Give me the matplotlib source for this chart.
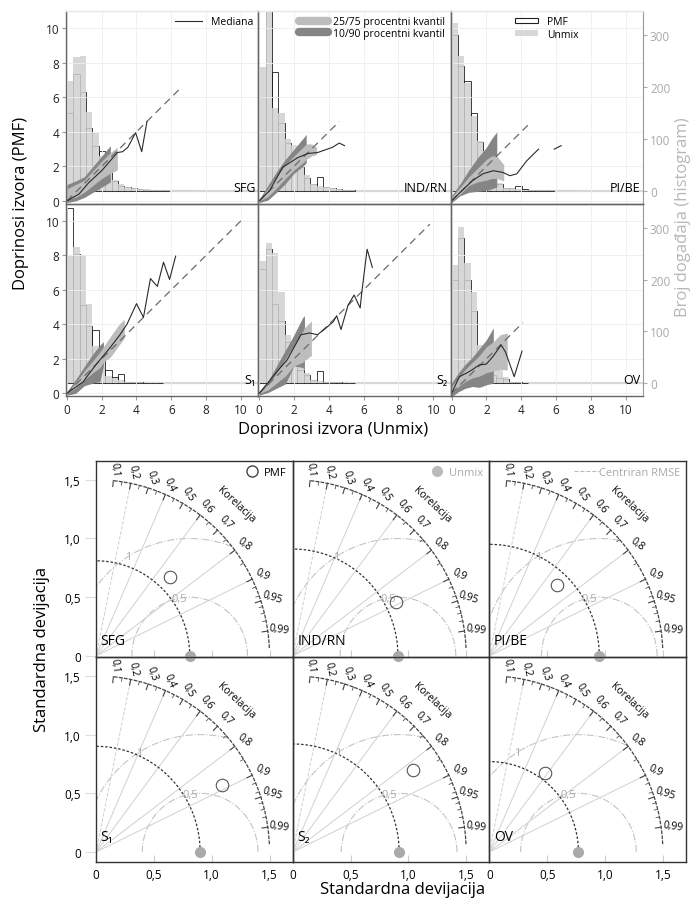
import numpy as np
import matplotlib
matplotlib.use("Agg")
import matplotlib.pyplot as plt
from matplotlib.lines import Line2D
from matplotlib.patches import Patch

plt.rcParams['font.family'] = ['Open Sans', 'DejaVu Sans']

nan = np.nan

# ---------------- gornji dio: doprinosi izvora PMF vs Unmix ----------------
sources = ["SFG", "IND/RN", "PI/BE", "S₁", "S₂", "OV"]
bin_w = 11 / 30

# histogrami (broj događaja po klasi)
unmix_counts = [
    [212, 258, 260, 152, 111, 66, 33, 20, 12, 7, 4, 3, 3, 2, 2, 2, 2, 1, 1, 1],
    [238, 380, 160, 149, 100, 88, 52, 30, 13, 8, 6, 5, 3, 2, 1],
    [323, 261, 207, 145, 96, 76, 51, 15, 5, 5, 3, 2, 2, 2, 2, 1, 1, 1, 1, 1],
    [248, 263, 248, 153, 72, 40, 14, 10, 5, 3, 2, 2, 1, 1, 1],
    [235, 270, 252, 176, 93, 50, 31, 20, 6, 4, 3, 2, 2, 1, 1, 1],
    [229, 302, 232, 176, 73, 60, 40, 25, 12, 2, 2, 1],
]
pmf_counts = [
    [150, 225, 190, 120, 86, 76, 46, 18, 9, 6, 4, 3, 2, 2, 1, 1],
    [180, 400, 230, 130, 92, 60, 45, 25, 12, 27, 6, 4, 3, 2, 1],
    [300, 240, 212, 150, 93, 60, 35, 12, 5, 4, 8, 3, 2, 2, 1, 1],
    [338, 250, 150, 110, 102, 45, 25, 12, 17, 3, 2, 2, 1, 1, 1],
    [220, 260, 153, 120, 80, 58, 25, 15, 6, 23, 3, 2, 2, 1, 1],
    [200, 280, 200, 140, 60, 20, 15, 10, 8, 2, 2, 1],
]

# medijana
med_x = [
    [0.0, 0.7, 1.25, 2.0, 2.9, 3.2, 3.5, 3.95, 4.3, 4.6],
    [0.0, 0.6, 1.35, 2.2, 2.8, 3.35, 4.2, 4.6, 4.9],
    [0.0, 0.45, 1.2, 1.8, 2.4, 2.95, 3.35, 3.75, 4.3, 5.0, nan, 5.9, 6.3],
    [0.0, 0.95, 1.15, 1.7, 2.5, 3.05, 3.45, 4.0, 4.4, 4.8, 5.2, 5.55, 5.9, 6.25],
    [0.0, 1.1, 1.6, 2.0, 2.4, 2.9, 3.35, 3.85, 4.25, 4.45, 4.7, 5.1, 5.45, 5.8,
     5.9, 6.2, 6.5],
    [0.0, 0.45, 1.0, 1.6, 2.0, 2.35, 2.85, 3.1, 3.6, 4.05],
]
med_y = [
    [0.0, 0.4, 1.05, 1.75, 2.8, 2.85, 3.1, 3.95, 2.85, 4.6],
    [0.0, 0.6, 1.95, 2.5, 2.75, 2.8, 3.1, 3.35, 3.2],
    [0.0, 0.45, 1.17, 1.57, 1.75, 1.65, 1.46, 1.57, 2.3, 3.0, nan, 3.0, 3.2],
    [0.0, 0.68, 0.97, 1.7, 2.67, 3.4, 4.0, 5.2, 4.4, 6.65, 6.2, 7.6, 6.6, 7.95],
    [0.0, 1.36, 1.93, 2.67, 3.4, 3.5, 3.4, 3.8, 4.15, 4.5, 3.7, 5.1, 5.7, 4.95,
     5.9, 8.35, 7.3],
    [0.0, 0.97, 1.25, 1.65, 1.7, 2.1, 2.8, 2.4, 0.97, 2.45],
]

# kvantili
band_x = [
    [0.0, 0.5, 1.0, 1.5, 2.0, 2.5, 2.9],
    [0.0, 0.5, 1.0, 1.5, 2.0, 2.5, 2.7, 3.0, 3.3],
    [0.0, 0.5, 1.0, 1.5, 2.0, 2.3, 2.6, 3.0],
    [0.0, 0.5, 1.0, 1.5, 1.9, 2.1, 2.5, 3.0, 3.3],
    [0.0, 0.5, 1.0, 1.5, 2.0, 2.5, 2.6, 3.0],
    [0.0, 0.4, 0.8, 1.2, 1.6, 2.0, 2.4, 2.8, 3.2],
]
q90 = [
    [0.95, 1.15, 1.4, 2.0, 2.6, 3.2, nan],
    [0.1, 0.9, 1.7, 2.4, 3.0, 3.6, 3.85, nan, nan],
    [0.3, 1.0, 1.8, 2.5, 3.1, 3.6, 4.0, nan],
    [0.1, 0.8, 1.55, 2.3, 2.8, 3.0, nan, nan, nan],
    [0.1, 0.7, 1.6, 2.5, 3.4, 4.4, 4.5, nan],
    [0.6, 1.2, 1.7, 2.1, 2.6, 3.1, 3.8, nan, nan],
]
q75 = [
    [0.7, 0.95, 1.2, 1.75, 2.3, 2.8, 3.1],
    [0.05, 0.7, 1.4, 2.1, 2.6, 3.1, 3.3, 3.3, 3.1],
    [0.2, 0.8, 1.4, 1.9, 2.4, 2.6, 2.6, 2.1],
    [0.05, 0.6, 1.3, 1.9, 2.4, 2.7, 3.3, 4.0, 4.3],
    [0.05, 0.5, 1.2, 2.0, 2.8, 3.6, 3.8, 4.2],
    [0.4, 0.9, 1.4, 1.8, 2.2, 2.7, 3.0, 3.4, 3.5],
]
q25 = [
    [0.1, 0.2, 0.5, 0.9, 1.3, 1.6, 1.8],
    [0.0, 0.25, 0.75, 1.3, 1.8, 2.2, 2.4, 2.6, 2.7],
    [0.0, 0.4, 0.9, 1.1, 1.2, 1.3, 1.3, 1.15],
    [0.0, 0.3, 0.8, 1.2, 1.5, 1.8, 2.1, 2.8, 3.2],
    [0.0, 0.2, 0.6, 1.0, 1.6, 1.8, 1.9, 2.2],
    [0.0, 0.4, 0.7, 0.9, 1.0, 1.2, 1.3, 1.4, 1.35],
]
q10 = [
    [-0.1, 0.0, 0.2, 0.5, 0.8, 1.1, nan],
    [-0.1, 0.05, 0.5, 1.0, 1.6, 2.0, 2.2, nan, nan],
    [-0.1, 0.3, 0.5, 0.55, 0.6, 0.7, 0.8, nan],
    [-0.1, 0.0, 0.45, 0.6, 0.7, 1.6, nan, nan, nan],
    [-0.1, 0.05, 0.3, 0.55, 1.6, 1.5, 1.35, nan],
    [-0.2, 0.1, 0.3, 0.4, 0.35, 0.5, 0.6, nan, nan],
]
one2one_end = [6.6, 4.6, 4.5, 10.0, 9.8, 4.1]

# ---------------- donji dio: Taylorovi dijagrami ----------------
ref_std = [0.81, 0.91, 0.95, 0.90, 0.92, 0.77]   # Unmix
pmf_std = [0.93, 1.00, 0.84, 1.23, 1.25, 0.83]
pmf_corr = [0.69, 0.89, 0.70, 0.886, 0.83, 0.58]
corr_labels = [0.1, 0.2, 0.3, 0.4, 0.5, 0.6, 0.7, 0.8, 0.9, 0.95, 0.99]
corr_minor = [0.15, 0.25, 0.35, 0.45, 0.55, 0.65, 0.75, 0.85, 0.92, 0.94, 0.96, 0.97, 0.98]
radial_corr = [0.2, 0.4, 0.6, 0.8, 0.9]
rmse_levels = [0.5, 1.0]
rmse_labels = ["0,5", "1"]

C_HIST = '#d0d0d0'
C_Q25 = '#bdbdbd'
C_Q10 = '#858585'

fig = plt.figure(figsize=(6.96, 9.04), dpi=100)

gs_top = fig.add_gridspec(2, 3, left=66 / 696, right=643 / 696, top=1 - 12 / 904,
                          bottom=1 - 397 / 904, wspace=0, hspace=0)
gs_bot = fig.add_gridspec(2, 3, left=96 / 696, right=686 / 696, top=1 - 462 / 904,
                          bottom=1 - 863 / 904, wspace=0, hspace=0,
                          height_ratios=[1.67, 1.745])

top_axes = []
for i in range(6):
    r, c = divmod(i, 3)
    ax = fig.add_subplot(gs_top[r, c])
    ax2 = ax.twinx()
    ax.set_zorder(ax2.get_zorder() + 1)
    ax.patch.set_visible(False)

    # PMF (obris) ispod, Unmix (sivo, poluprozirno) preko
    cp = pmf_counts[i]
    ax2.bar(np.arange(len(cp)) * bin_w, cp, width=bin_w, align='edge',
            fill=False, edgecolor='#1e1e1e', lw=0.6, zorder=1)
    cu = unmix_counts[i]
    ax2.bar(np.arange(len(cu)) * bin_w, cu, width=bin_w, align='edge',
            color=C_HIST, alpha=0.85, lw=0, zorder=2)
    ax2.axhline(0, color='#d8d8d8', lw=1.6, zorder=0)
    ax2.set_ylim(-25, 347)

    ax.fill_between(band_x[i], q10[i], q90[i], color=C_Q10, lw=0)
    ax.fill_between(band_x[i], q25[i], q75[i], color=C_Q25, lw=0)
    e = one2one_end[i]
    ax.plot([0, e], [0, e], color='#6a6a6a', lw=0.9, dashes=(6, 4))
    ax.plot(med_x[i], med_y[i], color='#2a2a2a', lw=0.8)

    ax.set_xlim(-0.05, 11)
    ax.set_ylim(-0.15, 11)
    ax.set_xticks(range(0, 11, 2))
    ax.set_yticks(range(0, 11, 2))
    ax.grid(color='#eeeeee', lw=0.6)
    ax.set_axisbelow(True)
    ax.tick_params(length=3, color='#999999', labelsize=8.5, pad=2,
                   labelcolor='#222222')
    if c != 0:
        ax.tick_params(left=False, labelleft=False)
    if r == 0:
        ax.tick_params(bottom=False, labelbottom=False)
    ax.text(10.85, 0.8, sources[i], ha='right', va='center', fontsize=9)

    for s in ax.spines.values():
        s.set_color('#666666')
        s.set_linewidth(1.0)
    if r == 0:
        ax.spines['top'].set_color('#e6e6e6')
    for s in ax2.spines.values():
        s.set_visible(False)
    if c == 2:
        ax.spines['right'].set_visible(False)
        ax2.spines['right'].set_visible(True)
        ax2.spines['right'].set_color('#999999')
        ax2.set_yticks([0, 100, 200, 300])
        ax2.tick_params(length=3, color='#aaaaaa', labelcolor='#aaaaaa',
                        labelsize=8.5, pad=2)
    else:
        ax2.set_yticks([])
    top_axes.append(ax)

top_axes[0].legend(handles=[Line2D([], [], color='#2a2a2a', lw=0.8)],
                   labels=['Mediana'], loc='upper right', frameon=False,
                   fontsize=7.5, handlelength=2.6, borderaxespad=0.1)
top_axes[1].legend(handles=[Line2D([], [], color=C_Q25, lw=6, solid_capstyle='round'),
                            Line2D([], [], color=C_Q10, lw=6, solid_capstyle='round')],
                   labels=['25/75 procentni kvantil', '10/90 procentni kvantil'],
                   loc='upper right', frameon=False, fontsize=7.5, handlelength=2.8,
                   labelspacing=0.05, borderaxespad=0.1, handletextpad=0.5)
top_axes[2].legend(handles=[Patch(facecolor='white', edgecolor='#222222', lw=0.8),
                            Patch(facecolor='#d8d8d8', edgecolor='none')],
                   labels=['PMF', 'Unmix'], loc='upper center',
                   bbox_to_anchor=(0.5, 1.0), frameon=False, fontsize=7.5,
                   handlelength=2.2, handleheight=0.5, labelspacing=0.15,
                   borderaxespad=0.1)

fig.text(0.030, 0.775, "Doprinosi izvora (PMF)", rotation=90, ha='center',
         va='center', fontsize=12)
fig.text(0.478, 0.524, "Doprinosi izvora (Unmix)", ha='center', va='center',
         fontsize=12)
fig.text(0.981, 0.76, "Broj događaja (histogram)", rotation=90, ha='center',
         va='center', fontsize=12, color='#b8b8b8')

# ---------------- Taylor ----------------
tay_axes = []
for i in range(6):
    r, c = divmod(i, 3)
    ax = fig.add_subplot(gs_bot[r, c])
    ax.patch.set_alpha(0)
    ax.set_xlim(0, 1.7)
    ax.set_ylim(-0.01 if r == 0 else -0.085, 1.66)
    ref = ref_std[i]

    th = np.linspace(0, np.pi, 500)
    for rr, lab, ang in zip(rmse_levels, rmse_labels, [100, 122]):
        x = ref + rr * np.cos(th)
        y = rr * np.sin(th)
        bad = (x < 0) | (x ** 2 + y ** 2 > 1.5 ** 2)
        x[bad] = np.nan
        y[bad] = np.nan
        ax.plot(x, y, color='#c4c4c4', lw=0.8, ls='-.')
        a = np.deg2rad(ang)
        ax.text(ref + rr * np.cos(a), rr * np.sin(a), lab, color='#aaaaaa',
                fontsize=8, ha='center', va='center')

    for cv in radial_corr:
        a = np.arccos(cv)
        ax.plot([0, 1.5 * np.cos(a)], [0, 1.5 * np.sin(a)], color='#d0d0d0',
                lw=0.7, ls='--' if cv == 0.2 else '-')

    t = np.linspace(0, np.pi / 2, 100)
    ax.plot(ref * np.cos(t), ref * np.sin(t), color='#333333', lw=0.9,
            ls=(0, (2, 1.5)))

    t = np.linspace(np.arccos(0.999), np.arccos(0.1), 200)
    ax.plot(1.5 * np.cos(t), 1.5 * np.sin(t), color='#444444', lw=0.9,
            ls=(0, (3, 1)))
    for cv in corr_labels:
        a = np.arccos(cv)
        ax.plot([1.45 * np.cos(a), 1.5 * np.cos(a)], [1.45 * np.sin(a), 1.5 * np.sin(a)],
                color='#444444', lw=0.8)
        ax.text(1.6 * np.cos(a), 1.6 * np.sin(a), f"{cv:g}".replace('.', ','),
                rotation=-np.rad2deg(a), rotation_mode='anchor', ha='center',
                va='center', fontsize=7.5)
    for cv in corr_minor:
        a = np.arccos(cv)
        ax.plot([1.47 * np.cos(a), 1.5 * np.cos(a)], [1.47 * np.sin(a), 1.5 * np.sin(a)],
                color='#555555', lw=0.6)
    ak = np.deg2rad(47)
    ax.text(1.77 * np.cos(ak), 1.77 * np.sin(ak), "Korelacija", rotation=-43,
            rotation_mode='anchor', ha='center', va='center', fontsize=7.5)

    ax.plot([ref], [0], 'o', color='#aaaaaa', ms=8, mec='none', clip_on=False,
            zorder=6)
    a = np.arccos(pmf_corr[i])
    ax.plot([pmf_std[i] * np.cos(a)], [pmf_std[i] * np.sin(a)], 'o', mfc='none',
            mec='#555555', ms=9, mew=0.8, zorder=6)
    ax.text(0.04, 0.13, sources[i], fontsize=10, ha='left', va='center')

    ax.set_xticks([0, 0.5, 1.0, 1.5])
    ax.set_xticklabels(['0', '0,5', '1,0', '1,5'])
    ax.set_yticks([0, 0.5, 1.0, 1.5])
    ax.set_yticklabels(['0', '0,5', '1,0', '1,5'])
    ax.tick_params(axis='x', direction='in', length=5, color='#cccccc',
                   labelsize=8.5, pad=4)
    ax.tick_params(axis='y', direction='out', length=8, color='#dddddd',
                   labelsize=8.5, pad=3)
    if c != 0:
        ax.tick_params(axis='y', left=False, labelleft=False)
    if r == 0:
        ax.tick_params(axis='x', labelbottom=False)
    for s in ax.spines.values():
        s.set_color('#333333')
        s.set_linewidth(1.0)
    tay_axes.append(ax)

tay_axes[0].legend(handles=[Line2D([], [], marker='o', ls='none', mfc='none',
                                   mec='#444444', ms=8)],
                   labels=['PMF'], loc='upper right', frameon=False, fontsize=8,
                   handletextpad=0.1, borderaxespad=0.15)
tay_axes[1].legend(handles=[Line2D([], [], marker='o', ls='none', color='#bbbbbb',
                                   mec='none', ms=8)],
                   labels=['Unmix'], loc='upper right', frameon=False, fontsize=8,
                   handletextpad=0.1, borderaxespad=0.15, labelcolor='#aaaaaa')
tay_axes[2].legend(handles=[Line2D([], [], color='#bbbbbb', lw=0.8, ls='--')],
                   labels=['Centriran RMSE'], loc='upper right', frameon=False,
                   fontsize=8, handlelength=2.2, handletextpad=0.0,
                   borderaxespad=0.15, labelcolor='#aaaaaa')

fig.text(0.060, 0.282, "Standardna devijacija", rotation=90, ha='center',
         va='center', fontsize=12)
fig.text(0.579, 0.016, "Standardna devijacija", ha='center', va='center',
         fontsize=12)

fig.savefig("out.png", dpi=100)
